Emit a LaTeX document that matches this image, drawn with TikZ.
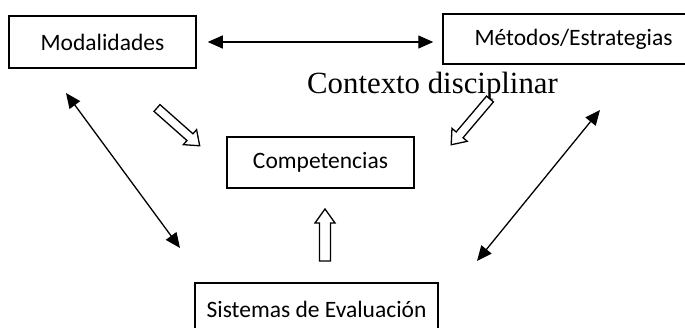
\documentclass[tikz,border=0pt]{standalone}
\usepackage{fontspec}
\setmainfont{Carlito}
\newfontfamily\ctxfont{Liberation Serif}
\usetikzlibrary{arrows.meta}
\begin{document}
\begin{tikzpicture}[x=1pt,y=1pt,
  box/.style={draw, line width=1.5pt, rectangle, inner sep=0pt, font=\fontsize{23.5}{27}\selectfont},
  dbl/.style={line width=1.3pt, {Triangle[length=15pt,width=13pt]}-{Triangle[length=15pt,width=13pt]}},
  hollow/.style={draw, line width=1.3pt, fill=white, line join=miter}]
\useasboundingbox (0,0) rectangle (685,327);
% boxes
\node[box, minimum width=187pt, minimum height=52pt] (mod) at (102.5,285) {Modalidades};
\node[box, minimum width=261pt, minimum height=50pt] (met) at (573.5,288) {Métodos/Estrategias};
\node[box, minimum width=187pt, minimum height=51pt] (comp) at (320.5,164.5) {Competencias};
\node[box, minimum width=243pt, minimum height=52pt] (sis) at (316.5,18) {Sistemas de Evaluación};
\node[anchor=base, inner sep=0pt, font=\ctxfont\fontsize{30.8}{36}\selectfont] (ctx) at (432.5,233) {Contexto disciplinar};
% double arrows
\path (mod.east |- 0,285) ++(11,0) coordinate (h1);
\path (h1 -| met.west) ++(-9,0) coordinate (h2);
\draw[dbl] (h1) -- (h2);
\coordinate (l1) at (66,234);
\coordinate (l2) at (180,79);
\draw[dbl] (l1) -- (l2);
\coordinate (r1) at (600,217);
\coordinate (r2) at (477,66);
\draw[dbl] (r1) -- (r2);
% hollow arrows
\begin{scope}[shift={(157,219)}, rotate=-41.5]
  \path[hollow] (0,-4.5) -- (44,-4.5) -- (44,-10) -- (57,0) -- (44,10) -- (44,4.5) -- (0,4.5) -- cycle;
\end{scope}
\begin{scope}[shift={(490,228)}, rotate=229.7]
  \path[hollow] (0,-4.5) -- (47,-4.5) -- (47,-10) -- (60,0) -- (47,10) -- (47,4.5) -- (0,4.5) -- cycle;
\end{scope}
\begin{scope}[shift={(325,66)}, rotate=90]
  \path[hollow] (0,-5.5) -- (38,-5.5) -- (38,-10) -- (52,0) -- (38,10) -- (38,5.5) -- (0,5.5) -- cycle;
\end{scope}
\end{tikzpicture}
\end{document}
